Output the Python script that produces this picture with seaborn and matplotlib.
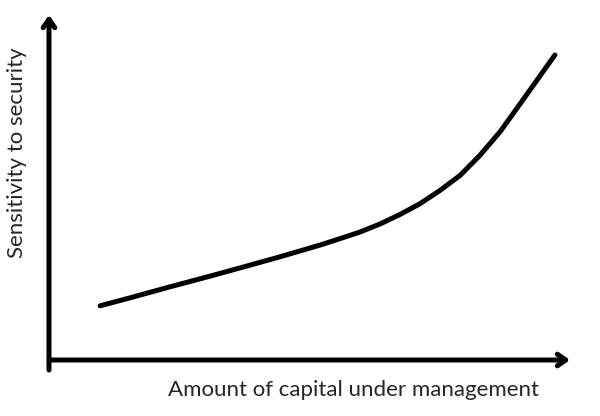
import matplotlib
matplotlib.use("Agg")
import matplotlib.pyplot as plt
import seaborn as sns
import pandas as pd

# Values (arbitrary units, 0-100 on both axes)
capital = [9.8, 15.5, 23.2, 30.9, 38.6, 44.3, 52.0, 55.9, 59.7, 63.5, 67.4,
           71.2, 75.0, 78.9, 82.7, 86.6, 90.4, 93.7, 97.1]
sensitivity = [15.7, 18.0, 21.2, 24.3, 27.5, 29.9, 33.3, 35.2, 37.1, 39.4, 42.2,
               45.3, 49.1, 53.5, 59.3, 66.2, 74.2, 81.2, 88.4]
x_label = "Amount of capital under management"
y_label = "Sensitivity to security"

df = pd.DataFrame({"capital": capital, "sensitivity": sensitivity})

sns.set_theme(style="white")
plt.rcParams['font.family'] = ['Lato', 'DejaVu Sans']

fig = plt.figure(figsize=(6, 4.16), dpi=100)
ax = fig.add_axes([49/600, 56/416, 521/600, 345/416])
sns.lineplot(data=df, x="capital", y="sensitivity", ax=ax, color="black",
             linewidth=3.6, solid_capstyle="round", solid_joinstyle="round",
             sort=False)
ax.set_xlim(0, 100)
ax.set_ylim(0, 100)
for s in ax.spines.values():
    s.set_visible(False)
ax.set_xticks([])
ax.set_yticks([])
ax.set_xlabel("")
ax.set_ylabel("")

# y axis
ax.annotate("", xy=(0, 1.0), xytext=(0, -10/345), xycoords="axes fraction",
            arrowprops=dict(arrowstyle="->,head_length=0.5,head_width=0.35",
                            color="black", lw=3.6, capstyle="round",
                            shrinkA=0, shrinkB=0))
# x axis
ax.annotate("", xy=(1.0, 0), xytext=(0, 0), xycoords="axes fraction",
            arrowprops=dict(arrowstyle="->,head_length=0.5,head_width=0.35",
                            color="black", lw=3.6, capstyle="round",
                            shrinkA=0, shrinkB=0))

fig.text(353/600, 1 - 390/416, x_label, ha="center", va="center", fontsize=16)
fig.text(17/600, 1 - 153/416, y_label, ha="center", va="center", fontsize=16,
         rotation=90)

fig.savefig("out.png", dpi=100, facecolor="white")
